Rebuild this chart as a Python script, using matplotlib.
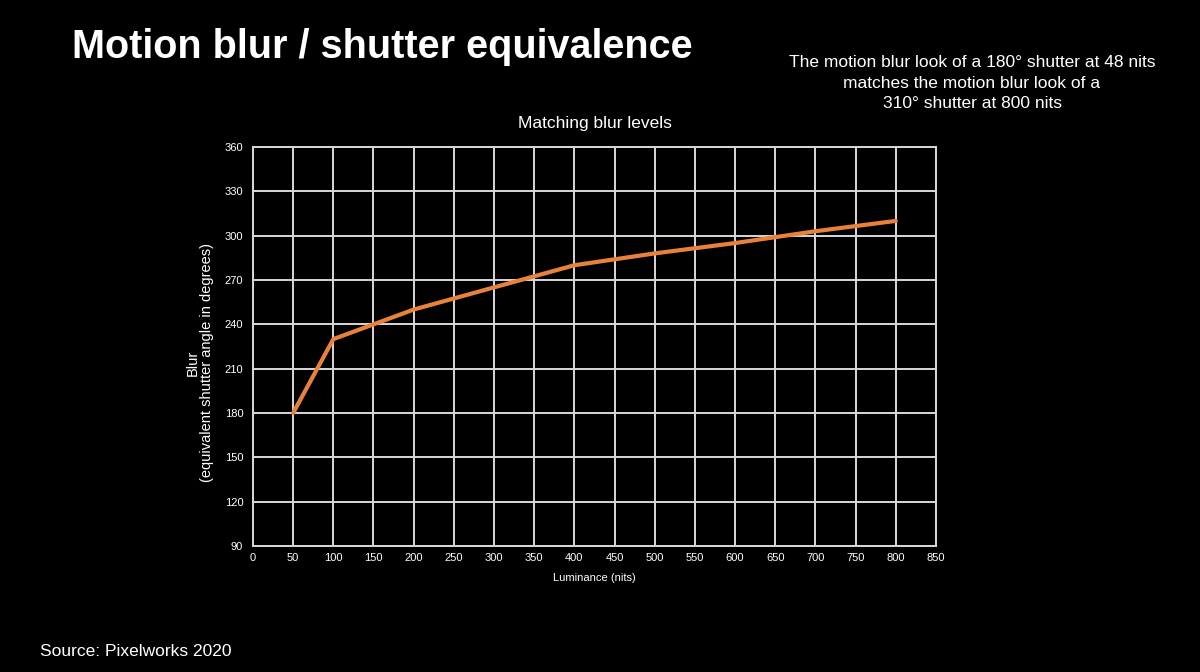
import matplotlib
matplotlib.use("Agg")
import matplotlib.pyplot as plt

luminance = [50, 100, 150, 200, 300, 400, 500, 600, 700, 800]
blur = [180, 230, 240, 250, 265, 280, 288, 295, 303, 310]
x_ticks = list(range(0, 851, 50))
y_ticks = list(range(90, 361, 30))

plt.rcParams['font.family'] = ['Liberation Sans', 'DejaVu Sans']
FONT = 'Liberation Sans'

fig = plt.figure(figsize=(12, 6.72), dpi=100, facecolor='black')
ax = fig.add_axes([0.2108, 0.1875, 0.5692, 0.59375], facecolor='black')

grid_c = '#d8d8d8'
ax.plot(luminance, blur, color='#e8823a', lw=3, solid_capstyle='round', zorder=3)
ax.set_xlim(0, 850)
ax.set_ylim(90, 360)
ax.set_xticks(x_ticks)
ax.set_yticks(y_ticks)
ax.grid(True, color=grid_c, lw=1.4)
for s in ax.spines.values():
    s.set_color(grid_c)
    s.set_linewidth(1.4)
ax.tick_params(axis='y', length=0, colors='white', labelsize=8, pad=7)
ax.tick_params(axis='x', length=0, colors='white', labelsize=8, pad=5)
ax.set_xlabel('Luminance (nits)', color='white', fontsize=8, labelpad=7, family=FONT)
ax.set_title('Matching blur levels', color='white', fontsize=12.5, pad=14, family=FONT)

fig.text(200/1200, 1-363/672, 'Blur\n(equivalent shutter angle in degrees)', color='white',
         fontsize=10.5, rotation=90, ha='center', va='center', linespacing=1.05,
         multialignment='center', family=FONT)

fig.text(72/1200, 1-47/672, 'Motion blur / shutter equivalence', color='white',
         fontsize=28.5, fontweight='bold', va='center', ha='left', family=FONT)
fig.text(972/1200, 1-83/672,
         'The motion blur look of a 180° shutter at 48 nits\nmatches the motion blur look of a\n310° shutter at 800 nits',
         color='white', fontsize=12.5, ha='center', va='center', linespacing=1.45, family=FONT)
fig.text(40/1200, 1-652/672, 'Source: Pixelworks 2020', color='white',
         fontsize=12.5, ha='left', va='center', family=FONT)

fig.savefig('out.png', dpi=100, facecolor='black')
